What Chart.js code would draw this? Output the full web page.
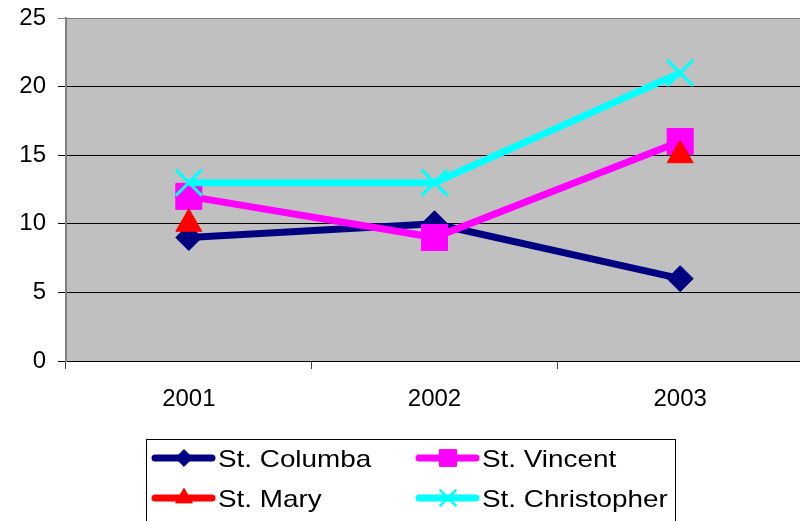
<!DOCTYPE html>
<html>
<head>
<meta charset="utf-8">
<script src="https://cdn.jsdelivr.net/npm/chart.js@4/dist/chart.umd.min.js"></script>
<style>
  html, body { margin: 0; padding: 0; background: #fff; overflow: hidden; }
  #wrap { width: 806px; height: 521px; }
</style>
</head>
<body>
<div id="wrap"><canvas id="lineChart" width="806" height="521"></canvas></div>
<script>
// Dados do gráfico
const anos = ['2001', '2002', '2003'];
const nomes = ['St. Columba', 'St. Vincent', 'St. Mary', 'St. Christopher'];
const columba = [9, 10, 6];
const vincent = [12, 9, 16];
const mary = [10, null, 15];
const christopher = [13, 13, 21];
const yTicks = [0, 5, 10, 15, 20, 25];

const cores = ['#000080', '#FF00FF', '#FF0000', '#00FFFF'];
const marcadores = ['rectRot', 'rect', 'triangle', 'crossRot'];
const raios = [13, 18.4, 15, 18.4];
const valores = [columba, vincent, mary, christopher];

const fonte = { family: '"Liberation Sans", Arial, sans-serif', size: 24 };

const datasets = nomes.map((nome, i) => ({
    label: nome,
    data: valores[i],
    borderColor: cores[i],
    backgroundColor: cores[i],
    borderWidth: 7,
    pointStyle: marcadores[i],
    pointRadius: raios[i],
    pointHoverRadius: raios[i],
    pointBorderWidth: marcadores[i] === 'crossRot' ? 3 : 1,
    pointBorderColor: cores[i],
    pointBackgroundColor: cores[i],
    spanGaps: false,
    tension: 0,
    order: nomes.length - i   // a última série fica por cima
}));

// Fundo cinza da área do gráfico
const fundo = {
    id: 'fundo',
    beforeDraw(chart) {
        const a = chart.chartArea, ctx = chart.ctx;
        ctx.save();
        ctx.fillStyle = '#C0C0C0';
        ctx.fillRect(a.left, a.top, a.right - a.left, a.bottom - a.top);
        ctx.strokeStyle = '#808080';
        ctx.lineWidth = 1;
        ctx.strokeRect(a.left + 0.5, a.top + 0.5, a.right - a.left - 1, a.bottom - a.top);
        ctx.restore();
    }
};

// Legenda desenhada à mão (caixa com duas colunas)
const legenda = {
    id: 'legenda',
    afterDraw(chart) {
        const ctx = chart.ctx;
        ctx.save();
        ctx.fillStyle = '#fff';
        ctx.fillRect(146, 439, 529, 100);
        ctx.strokeStyle = '#000';
        ctx.lineWidth = 1;
        ctx.strokeRect(146.5, 439.5, 529, 100);
        const colX = [152, 416];
        const linY = [458, 498];
        chart.data.datasets.forEach((ds, i) => {
            const x = colX[i % 2], y = linY[Math.floor(i / 2)];
            ctx.strokeStyle = ds.borderColor;
            ctx.lineWidth = 7;
            ctx.lineCap = 'round';
            ctx.beginPath();
            ctx.moveTo(x + 3, y);
            ctx.lineTo(x + 60, y);
            ctx.stroke();
            ctx.lineCap = 'butt';
            ctx.fillStyle = ds.backgroundColor;
            ctx.lineWidth = ds.pointStyle === 'crossRot' ? 2.5 : 1;
            Chart.helpers.drawPoint(ctx, {
                pointStyle: ds.pointStyle,
                rotation: 0,
                radius: ds.pointRadius * 0.65,
                borderWidth: ctx.lineWidth
            }, x + 32, y);
            ctx.fillStyle = '#000';
            ctx.font = '24px "Liberation Sans", Arial, sans-serif';
            ctx.textBaseline = 'middle';
            ctx.translate(x + 66, y + 2);
            ctx.scale(1.16, 1);
            ctx.fillText(ds.label, 0, 0);
            ctx.setTransform(1, 0, 0, 1, 0, 0);
        });
        ctx.restore();
    }
};

const config = {
    type: 'line',
    data: { labels: anos, datasets: datasets },
    options: {
        responsive: false,
        animation: false,
        devicePixelRatio: 1,
        layout: { autoPadding: false, padding: { left: 0, top: 18, right: 3, bottom: 0 } },
        plugins: {
            legend: { display: false },
            tooltip: { enabled: false }
        },
        scales: {
            x: {
                offset: true,
                grid: {
                    offset: true,
                    drawOnChartArea: false,
                    drawTicks: true,
                    tickLength: 8,
                    color: '#404040'
                },
                border: { color: '#000', width: 1 },
                ticks: { color: '#000', font: fonte, padding: 16, maxRotation: 0 },
                afterFit(scale) {
                    scale.height = 160;
                    scale.paddingLeft = 0;
                    scale.paddingRight = 0;
                }
            },
            y: {
                min: 0,
                max: 25,
                afterBuildTicks(scale) { scale.ticks = yTicks.map(v => ({ value: v })); },
                grid: {
                    color: (c) => (c.tick && c.tick.value === 25) ? '#808080' : '#000',
                    lineWidth: 1,
                    tickLength: 8
                },
                border: { color: '#808080', width: 2 },
                ticks: { color: '#000', font: fonte, padding: 12 },
                afterFit(scale) {
                    scale.width = 66;
                    scale.paddingTop = 0;
                    scale.paddingBottom = 0;
                }
            }
        }
    },
    plugins: [fundo, legenda]
};

const ctx = document.getElementById('lineChart').getContext('2d');
new Chart(ctx, config);
</script>
</body>
</html>
